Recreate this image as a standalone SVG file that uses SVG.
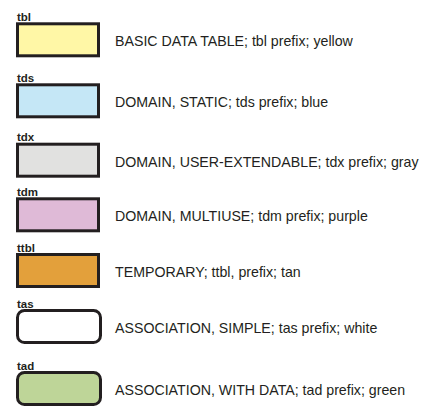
<svg xmlns="http://www.w3.org/2000/svg" width="431" height="407" viewBox="0 0 431 407">
<style>
.box{stroke:#231f20;stroke-width:3}
.lbl{font-family:"Liberation Sans",Arial,sans-serif;font-weight:bold;font-size:11.5px;fill:#231f20}
.desc{font-family:"Liberation Sans",Arial,sans-serif;font-size:14.2px;fill:#231f20}
</style>
<rect width="431" height="407" fill="#ffffff"/>
<g id="tbl">
<text class="lbl" x="17" y="20.8">tbl</text>
<rect class="box" x="17.5" y="23.8" width="81" height="32" fill="#fff7a6"/>
<text class="desc" x="115" y="45.8">BASIC DATA TABLE; tbl prefix; yellow</text>
</g>
<g id="tds">
<text class="lbl" x="17" y="81.8">tds</text>
<rect class="box" x="17.5" y="84.8" width="81" height="32" fill="#c5e7f6"/>
<text class="desc" x="115" y="107.3">DOMAIN, STATIC; tds prefix; blue</text>
</g>
<g id="tdx">
<text class="lbl" x="17" y="141.2">tdx</text>
<rect class="box" x="17.5" y="144.2" width="81" height="32" fill="#e1e1e0"/>
<text class="desc" x="115" y="166.7">DOMAIN, USER-EXTENDABLE; tdx prefix; gray</text>
</g>
<g id="tdm">
<text class="lbl" x="17" y="195.8">tdm</text>
<rect class="box" x="17.5" y="198.8" width="81" height="32" fill="#dfbad7"/>
<text class="desc" x="115" y="221.3">DOMAIN, MULTIUSE; tdm prefix; purple</text>
</g>
<g id="ttbl">
<text class="lbl" x="17" y="251.5">ttbl</text>
<rect class="box" x="17.5" y="254.5" width="81" height="32" fill="#e3a03b"/>
<text class="desc" x="115" y="277">TEMPORARY; ttbl, prefix; tan</text>
</g>
<g id="tas">
<text class="lbl" x="17" y="307.5">tas</text>
<rect class="box" x="17.5" y="310.5" width="83" height="32" rx="7" fill="#ffffff"/>
<text class="desc" x="115" y="333">ASSOCIATION, SIMPLE; tas prefix; white</text>
</g>
<g id="tad">
<text class="lbl" x="17" y="369.5">tad</text>
<rect class="box" x="17.5" y="372.5" width="83" height="32" rx="7" fill="#bed598"/>
<text class="desc" x="115" y="394.5">ASSOCIATION, WITH DATA; tad prefix; green</text>
</g>
<g id="connectors"/>
</svg>
